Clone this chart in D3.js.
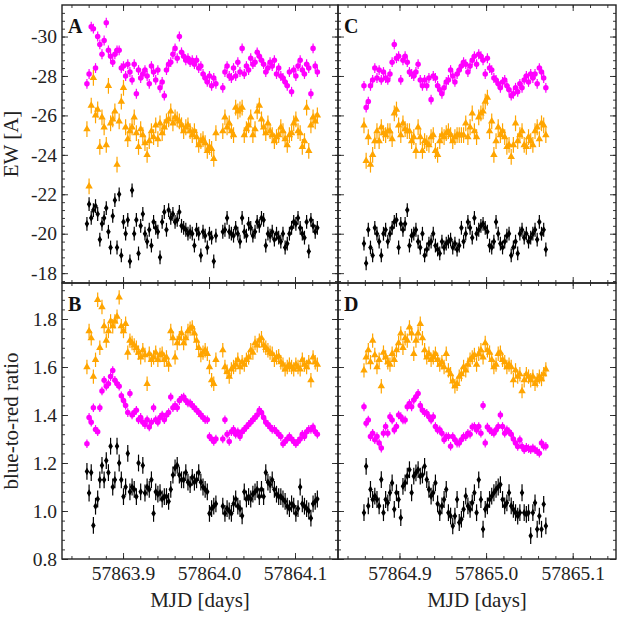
<!DOCTYPE html>
<html>
<head>
<meta charset="utf-8">
<script src="https://cdn.jsdelivr.net/npm/d3@7"></script>
<style>
  body { margin: 0; background: #fff; }
  svg { display: block; font-family: "Liberation Serif", serif; }
</style>
</head>
<body>
<div id="chart"></div>
<script>
var width = 622, height = 617;

// observation times, MJD minus the night's integer day
var night1Day = 57863, night2Day = 57864;
var tNight1 = [
  0.8580,0.8605,0.8630,0.8655,0.8680,0.8705,0.8730,0.8755,0.8780,0.8805,
  0.8830,0.8855,0.8880,0.8905,0.8930,0.8955,0.8980,0.9005,0.9030,0.9055,
  0.9080,0.9105,0.9130,0.9155,0.9180,0.9205,0.9230,0.9255,0.9280,0.9305,
  0.9330,0.9355,0.9380,0.9405,0.9430,0.9455,0.9480,0.9505,0.9530,0.9555,
  0.9580,0.9605,0.9630,0.9655,0.9680,0.9705,0.9730,0.9755,0.9780,0.9805,
  0.9830,0.9855,0.9880,0.9905,0.9930,0.9955,0.9980,1.0005,1.0030,1.0055,
  1.0080,
  1.0160,1.0185,1.0210,1.0235,1.0260,1.0285,1.0310,1.0335,1.0360,1.0385,
  1.0410,1.0435,1.0460,1.0485,1.0510,1.0535,1.0560,1.0585,1.0610,1.0635,
  1.0660,1.0685,1.0710,1.0735,1.0760,1.0785,1.0810,1.0835,1.0860,1.0885,
  1.0910,1.0935,1.0960,1.0985,1.1010,1.1035,1.1060,1.1085,1.1110,1.1135,
  1.1160,1.1185,1.1210,1.1235,1.1260
];
var tNight2 = [
  0.8590,0.8615,0.8640,0.8665,0.8690,0.8715,0.8740,0.8765,0.8790,0.8815,
  0.8840,0.8865,0.8890,0.8915,0.8940,0.8965,0.8990,0.9015,0.9040,0.9065,
  0.9090,0.9115,0.9140,0.9165,0.9190,0.9215,0.9240,0.9265,0.9290,0.9315,
  0.9340,0.9365,0.9390,0.9415,0.9440,0.9465,0.9490,0.9515,0.9540,0.9565,
  0.9590,0.9615,0.9640,0.9665,0.9690,0.9715,0.9740,0.9765,0.9790,0.9815,
  0.9840,0.9865,0.9890,0.9915,0.9940,0.9965,0.9990,1.0015,1.0040,1.0065,
  1.0090,1.0115,1.0140,1.0165,1.0190,1.0215,1.0240,1.0265,1.0290,1.0315,
  1.0340,1.0365,1.0390,1.0415,1.0440,1.0465,1.0490,1.0515,1.0540,1.0565,
  1.0590,1.0615,1.0640,1.0665,1.0690
];

// panel A: equivalent widths, night 1
var ewMagN1 = [
  -27.6,-28.1,-30.5,-30.4,-28.4,-30.0,-29.6,-29.1,-29.8,-30.7,
  -29.3,-29.0,-28.7,-29.1,-29.3,-29.3,-28.4,-28.5,-28.0,-28.6,
  -28.2,-27.8,-28.6,-27.1,-28.3,-27.9,-28.1,-28.3,-28.0,-27.6,
  -28.5,-28.2,-27.8,-28.3,-27.4,-27.7,-27.0,-28.3,-28.6,-28.7,
  -29.1,-29.4,-28.9,-30.0,-29.2,-29.0,-28.8,-28.9,-28.7,-28.8,
  -28.6,-28.8,-28.4,-28.5,-28.1,-27.9,-27.7,-28.0,-27.5,-27.9,
  -27.6,
  -27.4,-28.2,-28.5,-28.0,-27.9,-28.4,-28.0,-28.7,-28.2,-29.4,
  -28.1,-28.5,-28.3,-28.9,-28.6,-28.7,-29.2,-29.0,-28.8,-28.6,
  -28.2,-28.4,-28.7,-28.5,-28.8,-28.1,-28.4,-28.0,-27.9,-27.7,
  -27.5,-28.2,-27.2,-28.3,-28.0,-28.5,-28.8,-28.3,-28.1,-28.6,
  -28.4,-27.1,-29.4,-28.5,-28.2
];
var ewOrgN1 = [
  -25.3,-22.4,-26.5,-27.9,-26.0,-26.3,-24.4,-25.9,-25.4,-24.5,
  -27.5,-25.6,-25.8,-26.2,-23.5,-25.7,-26.7,-27.4,-25.4,-24.8,
  -25.2,-25.4,-25.9,-25.1,-24.4,-25.3,-25.0,-24.6,-24.0,-24.7,
  -25.2,-24.9,-25.5,-24.8,-25.6,-25.1,-25.4,-25.7,-25.8,-26.2,
  -25.6,-25.9,-25.8,-25.7,-25.5,-25.2,-25.4,-25.5,-25.2,-25.0,
  -25.2,-24.9,-24.5,-24.7,-24.8,-24.6,-24.2,-24.4,-24.3,-23.8,
  -25.1,
  -25.2,-25.9,-25.4,-25.6,-25.2,-25.0,-26.4,-26.2,-26.3,-26.4,
  -25.0,-25.3,-25.5,-25.9,-25.0,-25.3,-26.2,-26.5,-25.8,-25.4,
  -25.1,-25.6,-25.2,-25.0,-24.7,-24.9,-25.0,-25.4,-25.2,-24.8,
  -24.5,-25.0,-25.1,-25.6,-25.8,-25.2,-25.1,-24.4,-24.7,-26.4,
  -24.2,-25.5,-25.9,-25.7,-26.0
];
var ewBlkN1 = [
  -20.5,-21.5,-20.8,-21.2,-21.4,-21.0,-19.7,-20.5,-20.8,-21.3,
  -20.1,-19.3,-20.9,-21.7,-19.3,-22.0,-18.9,-20.6,-20.0,-20.7,
  -18.6,-22.2,-20.0,-20.7,-19.0,-20.4,-21.0,-20.0,-19.6,-20.2,
  -19.4,-20.6,-20.3,-20.1,-18.8,-20.6,-21.1,-20.2,-21.2,-20.8,
  -21.0,-20.6,-20.7,-21.1,-20.4,-20.3,-20.2,-20.0,-20.1,-20.0,
  -19.4,-20.2,-20.0,-18.9,-20.1,-19.9,-19.3,-20.0,-19.8,-18.6,
  -19.9,
  -20.1,-20.2,-20.8,-20.1,-20.0,-19.9,-20.3,-20.0,-19.6,-20.8,
  -20.1,-19.9,-20.5,-20.3,-19.9,-20.1,-20.6,-20.4,-20.8,-20.7,
  -19.4,-20.0,-19.9,-20.1,-19.7,-20.0,-19.8,-19.6,-20.0,-19.3,
  -19.5,-20.0,-20.3,-20.6,-20.5,-20.8,-20.3,-20.0,-19.8,-20.6,
  -19.1,-20.7,-20.4,-20.1,-20.3
];

// panel C: equivalent widths, night 2
var ewMagN2 = [
  -27.5,-26.4,-26.7,-27.5,-27.8,-28.4,-27.9,-28.3,-27.8,-28.2,
  -27.9,-27.8,-28.1,-28.7,-29.6,-28.9,-29.0,-27.8,-28.8,-29.0,
  -28.7,-28.2,-28.1,-28.0,-28.2,-28.6,-27.8,-27.5,-27.8,-27.5,
  -27.9,-26.8,-28.0,-27.9,-27.5,-27.3,-27.1,-27.4,-27.7,-27.8,
  -28.3,-28.0,-27.7,-28.1,-28.3,-28.5,-28.7,-28.6,-28.2,-28.5,
  -28.8,-29.0,-28.6,-29.1,-29.0,-28.8,-28.1,-28.9,-28.4,-28.3,
  -27.9,-27.8,-27.6,-27.4,-27.7,-27.8,-27.5,-27.3,-27.0,-27.1,
  -27.4,-27.2,-27.6,-27.4,-27.8,-28.0,-27.7,-28.1,-27.9,-28.1,
  -27.6,-28.4,-28.2,-27.9,-27.4
];
var ewOrgN2 = [
  -25.5,-23.7,-24.9,-23.5,-24.0,-24.7,-25.2,-24.7,-25.4,-25.1,
  -25.0,-25.2,-25.2,-24.8,-26.1,-26.3,-25.5,-25.0,-25.6,-25.3,
  -25.2,-25.2,-24.7,-24.9,-24.2,-25.4,-24.9,-24.2,-24.7,-24.6,
  -24.5,-24.9,-25.0,-24.2,-24.0,-24.7,-25.0,-24.9,-25.1,-25.2,
  -25.0,-24.7,-24.9,-25.0,-25.0,-25.0,-25.0,-25.6,-24.9,-25.4,
  -26.1,-25.2,-24.9,-25.9,-26.1,-26.2,-26.7,-26.9,-25.2,-25.7,
  -24.0,-24.7,-25.4,-25.0,-25.2,-24.9,-24.4,-24.5,-23.9,-24.5,
  -25.6,-24.7,-25.0,-25.2,-24.5,-24.4,-24.9,-24.7,-24.5,-25.2,
  -25.4,-24.8,-25.6,-25.5,-25.0
];
var ewBlkN2 = [
  -19.5,-18.5,-20.2,-19.3,-18.9,-20.3,-20.0,-19.6,-18.9,-20.0,
  -20.2,-19.6,-20.0,-20.3,-20.6,-20.7,-19.3,-20.5,-20.2,-20.5,
  -21.2,-19.4,-19.9,-20.0,-20.2,-19.6,-19.3,-20.0,-18.9,-19.2,
  -19.5,-19.6,-20.0,-19.4,-19.2,-19.0,-19.6,-19.3,-19.5,-19.6,
  -19.7,-19.3,-19.5,-19.2,-19.4,-20.3,-19.6,-20.0,-20.6,-20.3,
  -19.8,-20.8,-20.0,-20.2,-20.4,-20.5,-20.3,-20.1,-19.4,-19.3,
  -19.6,-20.6,-20.0,-19.5,-19.3,-19.6,-19.9,-20.0,-18.9,-19.3,
  -19.6,-19.0,-20.0,-20.2,-19.8,-20.0,-19.6,-19.8,-20.0,-20.2,
  -19.7,-20.6,-20.0,-20.2,-19.2
];

// panel B: blue-to-red ratio, night 1
var brMagN1 = [
  1.28,1.39,1.37,1.43,1.34,1.33,1.43,1.50,1.545,1.52,
  1.53,1.56,1.585,1.545,1.53,1.52,1.48,1.46,1.44,1.41,
  1.49,1.40,1.41,1.42,1.38,1.39,1.37,1.36,1.38,1.35,
  1.37,1.43,1.38,1.37,1.39,1.40,1.38,1.40,1.41,1.475,
  1.43,1.44,1.43,1.46,1.47,1.475,1.46,1.45,1.45,1.44,
  1.43,1.42,1.41,1.40,1.39,1.38,1.38,1.31,1.30,1.29,
  1.30,
  1.30,1.38,1.32,1.29,1.33,1.34,1.32,1.33,1.31,1.33,
  1.34,1.35,1.36,1.37,1.38,1.39,1.40,1.42,1.41,1.39,
  1.37,1.36,1.35,1.34,1.34,1.33,1.32,1.31,1.28,1.29,
  1.30,1.31,1.30,1.29,1.28,1.29,1.30,1.32,1.31,1.33,
  1.34,1.34,1.35,1.33,1.32
];
var brOrgN1 = [
  1.60,1.75,1.72,1.56,1.63,1.88,1.68,1.85,1.77,1.71,
  1.75,1.79,1.77,1.79,1.81,1.89,1.77,1.75,1.78,1.66,
  1.71,1.70,1.69,1.68,1.66,1.64,1.67,1.65,1.53,1.655,
  1.63,1.64,1.66,1.63,1.65,1.655,1.63,1.64,1.61,1.75,
  1.72,1.64,1.70,1.72,1.74,1.70,1.72,1.75,1.76,1.765,
  1.74,1.71,1.68,1.65,1.66,1.67,1.655,1.60,1.545,1.53,
  1.63,
  1.67,1.60,1.58,1.56,1.59,1.60,1.61,1.63,1.60,1.62,
  1.61,1.63,1.64,1.67,1.66,1.70,1.69,1.71,1.72,1.69,
  1.68,1.67,1.66,1.655,1.63,1.64,1.645,1.62,1.61,1.59,
  1.60,1.61,1.60,1.59,1.61,1.60,1.59,1.63,1.61,1.60,
  1.62,1.545,1.64,1.62,1.61
];
var brBlkN1 = [
  1.165,1.075,1.16,0.94,1.02,1.05,1.13,1.19,1.13,1.21,
  1.16,1.27,1.10,1.13,1.27,1.20,1.13,1.06,1.10,1.24,
  1.08,1.10,1.09,1.06,1.20,1.08,1.19,1.075,1.10,1.09,
  1.13,0.99,1.08,1.07,1.076,1.05,1.06,1.06,1.04,1.09,
  1.15,1.18,1.19,1.15,1.13,1.13,1.16,1.12,1.11,1.14,
  1.12,1.13,1.16,1.12,1.10,1.09,1.08,0.99,1.01,1.02,
  1.03,
  1.02,0.99,1.01,1.00,0.99,1.03,1.05,1.02,1.01,0.98,
  1.08,1.05,1.06,1.05,1.07,1.08,1.09,1.06,1.09,1.06,
  1.16,1.12,1.11,1.13,1.09,1.07,1.06,1.06,1.05,1.04,
  1.02,1.01,1.03,1.02,0.99,1.01,1.10,1.03,1.02,1.01,
  1.00,0.97,1.03,1.04,1.05
];

// panel D: blue-to-red ratio, night 2
var brMagN2 = [
  1.434,1.366,1.379,1.31,1.324,1.297,1.31,1.283,1.262,1.324,
  1.352,1.324,1.393,1.379,1.338,1.352,1.40,1.393,1.379,1.379,
  1.434,1.448,1.434,1.462,1.476,1.49,1.44,1.42,1.41,1.407,
  1.393,1.379,1.393,1.352,1.338,1.338,1.324,1.297,1.31,1.31,
  1.27,1.31,1.297,1.283,1.283,1.297,1.31,1.31,1.324,1.32,
  1.35,1.352,1.338,1.352,1.324,1.44,1.283,1.35,1.338,1.33,
  1.324,1.338,1.352,1.40,1.352,1.324,1.338,1.33,1.32,1.30,
  1.283,1.269,1.297,1.269,1.255,1.265,1.26,1.255,1.262,1.255,
  1.248,1.241,1.283,1.27,1.27
];
var brOrgN2 = [
  1.586,1.64,1.67,1.62,1.71,1.65,1.60,1.63,1.52,1.66,
  1.64,1.62,1.61,1.655,1.63,1.67,1.70,1.74,1.68,1.72,
  1.71,1.765,1.74,1.655,1.71,1.74,1.78,1.72,1.67,1.64,
  1.655,1.63,1.64,1.655,1.63,1.61,1.62,1.60,1.655,1.586,
  1.57,1.54,1.52,1.53,1.56,1.57,1.60,1.586,1.61,1.63,
  1.64,1.65,1.61,1.655,1.67,1.64,1.70,1.67,1.66,1.63,
  1.60,1.61,1.655,1.66,1.63,1.62,1.60,1.61,1.60,1.545,
  1.586,1.56,1.57,1.50,1.545,1.57,1.56,1.545,1.56,1.53,
  1.545,1.56,1.55,1.57,1.59
];
var brBlkN2 = [
  0.993,1.186,1.021,1.09,1.048,1.062,1.048,1.021,1.131,0.993,
  1.048,1.034,1.076,1.117,1.007,1.076,1.048,0.972,1.103,1.117,
  1.145,1.172,1.076,1.145,1.159,1.172,1.145,1.15,1.186,1.131,
  1.09,1.062,1.076,1.117,1.03,0.993,1.021,1.048,1.09,0.993,
  0.979,0.938,0.979,1.048,0.952,0.966,1.007,1.062,1.021,1.007,
  1.034,1.076,0.993,1.13,1.048,0.924,1.007,1.021,1.048,1.062,
  1.076,1.09,1.10,1.11,1.048,1.021,1.034,1.076,1.021,1.007,
  0.993,0.979,0.993,1.076,0.993,0.986,0.993,0.897,0.993,1.034,
  0.924,0.979,0.924,1.028,0.938
];

// typical 1-sigma errors: [magenta, orange, black]
var ewErr = [0.25, 0.4, 0.35];
var brErr = [0.018, 0.03, 0.035];
var tErr = 0.002;

var ewTicks = [-30, -28, -26, -24, -22, -20, -18];
var brTicks = [0.8, 1.0, 1.2, 1.4, 1.6, 1.8];
var mjdTicks1 = [57863.9, 57864.0, 57864.1];
var mjdTicks2 = [57864.9, 57865.0, 57865.1];

var colors = ["#ff00ff", "#ffa500", "#000000"];

// ---- layout
var xL = 62, xM = 338, xR = 616, yT = 5, yM = 283, yB = 559;
var tickFont = 19.5, titleFont = 21;

var x1 = d3.scaleLinear().domain([57863.829, 57864.15]).range([xL, xM]);
var x2 = d3.scaleLinear().domain([57864.829, 57865.15]).range([xM, xR]);
var yEW = d3.scaleLinear().domain([-17.5, -31.6]).range([yM, yT]);
var yBR = d3.scaleLinear().domain([0.8, 1.95]).range([yB, yM]);

var svg = d3.select("#chart").append("svg")
  .attr("width", width).attr("height", height)
  .attr("viewBox", [0, 0, width, height]);

function makeSeries(day, times, vals) {
  return vals.map((v, i) => ({t: day + times[i], v: v}));
}

var panels = [
  {name: "A", x: x1, y: yEW, err: ewErr, labY: true, ticksX: mjdTicks1, ticksY: ewTicks, bottom: false,
   series: [makeSeries(night1Day, tNight1, ewMagN1), makeSeries(night1Day, tNight1, ewOrgN1), makeSeries(night1Day, tNight1, ewBlkN1)]},
  {name: "C", x: x2, y: yEW, err: ewErr, labY: false, ticksX: mjdTicks2, ticksY: ewTicks, bottom: false,
   series: [makeSeries(night2Day, tNight2, ewMagN2), makeSeries(night2Day, tNight2, ewOrgN2), makeSeries(night2Day, tNight2, ewBlkN2)]},
  {name: "B", x: x1, y: yBR, err: brErr, labY: true, ticksX: mjdTicks1, ticksY: brTicks, bottom: true,
   series: [makeSeries(night1Day, tNight1, brMagN1), makeSeries(night1Day, tNight1, brOrgN1), makeSeries(night1Day, tNight1, brBlkN1)]},
  {name: "D", x: x2, y: yBR, err: brErr, labY: false, ticksX: mjdTicks2, ticksY: brTicks, bottom: true,
   series: [makeSeries(night2Day, tNight2, brMagN2), makeSeries(night2Day, tNight2, brOrgN2), makeSeries(night2Day, tNight2, brBlkN2)]}
];

function minorTicks(first, step, n) {
  return d3.range(n).map(i => +(first + i * step).toFixed(4));
}

panels.forEach(p => {
  var [x0, x1p] = p.x.range();
  var [y0, y1p] = p.y.range(); // y0 bottom, y1p top
  var g = svg.append("g");

  // data
  var clipId = "clip" + p.name;
  svg.append("clipPath").attr("id", clipId).append("rect")
    .attr("x", x0).attr("y", y1p).attr("width", x1p - x0).attr("height", y0 - y1p);
  var gd = g.append("g").attr("clip-path", `url(#${clipId})`);

  p.series.forEach((s, si) => {
    var c = colors[si];
    var e = p.err[si];
    var gs = gd.append("g");
    gs.selectAll(".ev").data(s).join("line")
      .attr("x1", d => p.x(d.t)).attr("x2", d => p.x(d.t))
      .attr("y1", d => p.y(d.v - e)).attr("y2", d => p.y(d.v + e))
      .attr("stroke", c).attr("stroke-width", 1.2);
    gs.selectAll(".eh").data(s).join("line")
      .attr("x1", d => p.x(d.t - tErr)).attr("x2", d => p.x(d.t + tErr))
      .attr("y1", d => p.y(d.v)).attr("y2", d => p.y(d.v))
      .attr("stroke", c).attr("stroke-width", 1.2);
    var sym = si === 1 ? d3.symbolTriangle : (si === 2 ? d3.symbolDiamond : d3.symbolCircle);
    var size = si === 1 ? 24 : (si === 2 ? 17 : 24);
    gs.selectAll("path").data(s).join("path")
      .attr("transform", d => `translate(${p.x(d.t)},${p.y(d.v)})`)
      .attr("d", d3.symbol(sym, size))
      .attr("fill", c);
  });

  // ticks (inward on all sides)
  var xd = p.x.domain(), yd = p.y.domain();
  var xMinor = minorTicks(Math.ceil(xd[0] * 50) / 50, 0.02, 17).filter(v => v > xd[0] && v < xd[1]);
  var yLo = Math.min(yd[0], yd[1]), yHi = Math.max(yd[0], yd[1]);
  var yStep = p.bottom ? 0.04 : 0.4;
  var yMinor = minorTicks(Math.ceil(yLo / yStep - 1e-6) * yStep, yStep, 40).filter(v => v > yLo && v < yHi);

  function tickGroup(axis, tx, ty) {
    var a = g.append("g").attr("transform", `translate(${tx},${ty})`).call(axis);
    a.select(".domain").remove();
    a.selectAll("line").attr("stroke", "#222").attr("stroke-width", 0.9);
    a.selectAll("text").attr("font-size", tickFont).attr("fill", "#222")
      .attr("font-family", "'Liberation Serif', serif");
    return a;
  }
  var none = () => "";

  // bottom
  tickGroup(d3.axisBottom(p.x).tickValues(p.ticksX).tickSizeInner(-6).tickSizeOuter(0).tickPadding(7)
    .tickFormat(p.bottom ? d3.format(".1f") : none), 0, y0);
  tickGroup(d3.axisBottom(p.x).tickValues(xMinor).tickSizeInner(-3).tickSizeOuter(0).tickFormat(none), 0, y0);
  // top
  tickGroup(d3.axisTop(p.x).tickValues(p.ticksX).tickSizeInner(-6).tickSizeOuter(0).tickFormat(none), 0, y1p);
  tickGroup(d3.axisTop(p.x).tickValues(xMinor).tickSizeInner(-3).tickSizeOuter(0).tickFormat(none), 0, y1p);
  // left
  tickGroup(d3.axisLeft(p.y).tickValues(p.ticksY).tickSizeInner(-6).tickSizeOuter(0).tickPadding(5)
    .tickFormat(p.labY ? (p.bottom ? d3.format(".1f") : d => String(d)) : none), x0, 0);
  tickGroup(d3.axisLeft(p.y).tickValues(yMinor).tickSizeInner(-3).tickSizeOuter(0).tickFormat(none), x0, 0);
  // right
  tickGroup(d3.axisRight(p.y).tickValues(p.ticksY).tickSizeInner(-6).tickSizeOuter(0).tickFormat(none), x1p, 0);
  tickGroup(d3.axisRight(p.y).tickValues(yMinor).tickSizeInner(-3).tickSizeOuter(0).tickFormat(none), x1p, 0);

  // frame
  g.append("rect")
    .attr("x", x0).attr("y", y1p).attr("width", x1p - x0).attr("height", y0 - y1p)
    .attr("fill", "none").attr("stroke", "#222").attr("stroke-width", 1.4);

  // panel letter
  g.append("text")
    .attr("x", x0 + 6).attr("y", y1p + 28)
    .attr("font-size", 20).attr("font-weight", "bold").attr("fill", "#111")
    .text(p.name);
});

// axis titles
svg.append("text")
  .attr("transform", `translate(18,${(yT + yM) / 2}) rotate(-90)`)
  .attr("text-anchor", "middle").attr("font-size", titleFont).attr("fill", "#222")
  .text("EW [A]");
svg.append("text")
  .attr("transform", `translate(18,${(yM + yB) / 2}) rotate(-90)`)
  .attr("text-anchor", "middle").attr("font-size", titleFont).attr("fill", "#222")
  .text("blue-to-red ratio");
svg.append("text")
  .attr("x", (xL + xM) / 2).attr("y", 607)
  .attr("text-anchor", "middle").attr("font-size", titleFont).attr("fill", "#222")
  .text("MJD [days]");
svg.append("text")
  .attr("x", (xM + xR) / 2).attr("y", 607)
  .attr("text-anchor", "middle").attr("font-size", titleFont).attr("fill", "#222")
  .text("MJD [days]");
</script>
</body>
</html>
